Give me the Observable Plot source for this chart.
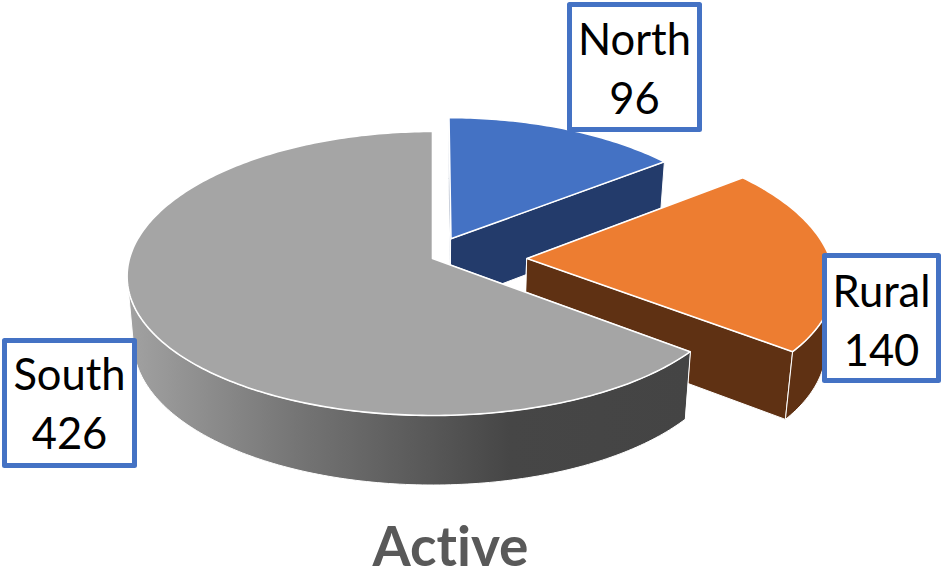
<!DOCTYPE html>
<html>
<head>
<meta charset="utf-8">
<script src="https://cdn.jsdelivr.net/npm/d3@7"></script>
<script src="https://cdn.jsdelivr.net/npm/@observablehq/plot@0.6"></script>
<style>
html,body{margin:0;padding:0;background:#fff}
svg{display:block}
svg text{font-variant-ligatures:none}
g[aria-label="title"]{letter-spacing:2.4px}
</style>
</head>
<body>
<div id="chart"></div>
<script>
// --- data
const categories = ["North", "Rural", "South"];
const values = [96, 140, 426];
const chartTitle = "Active";

// --- styling and layout
const topColors = ["#4472C4", "#ED7D31", "#A5A5A5"];
const sideColors = ["#233B6B", "#5F3113", "url(#graySide)"];
const offsetsU = [0.062, 0.312, 0];
const offsetsV = [-0.142, 0, 0];
const radii = [0.98, 1, 1];
const center = {x: 432, y: 258};
const radius = {x: 303, y: 140.4};
const perspY = 0.1056, perspX = 0.125, thickness = 65, bottomScale = 0.98;
const labelBoxes = [
  {x1: 569.5, x2: 699.5, y1: 4.5, y2: 129.5, cy: 65},
  {x1: 824.5, x2: 938.5, y1: 255.5, y2: 380.5, cy: 317},
  {x1: 4.5, x2: 134.5, y1: 340.5, y2: 465.5, cy: 400}
];

// --- projection of a point on the disc (u right, v toward the viewer, depth 0 top / 1 bottom)
function project(u, v, depth) {
  const sy = 1 / (1 - perspY * v), sx = 1 / (1 - perspX * v);
  const X = radius.x * u * sx, Y = radius.y * v * sy;
  const f = depth ? bottomScale : 1;
  return {x: center.x + X * f, y: center.y + Y * f + (depth ? thickness * sy : 0)};
}

const total = d3.sum(values);
const slices = [];
let acc = 0;
values.forEach((v, i) => {
  const a0 = acc / total * 2 * Math.PI;
  acc += v;
  const a1 = acc / total * 2 * Math.PI;
  slices.push({i, a0, a1, ou: offsetsU[i], ov: offsetsV[i], r: radii[i]});
});

function rimAngles(s) {
  const n = Math.max(2, Math.ceil((s.a1 - s.a0) * 60));
  return d3.range(n + 1).map(k => s.a0 + (s.a1 - s.a0) * k / n);
}
const rimPoint = (s, a, depth) =>
  project(s.ou + s.r * Math.sin(a), s.ov - s.r * Math.cos(a), depth);

const polys = [];
function addPoly(id, pts, fill) {
  if (pts.length) pts.forEach(p => polys.push({id, x: p.x, y: p.y, fill}));
}
slices.forEach(s => {
  const col = sideColors[s.i];
  const apexT = project(s.ou, s.ov, 0), apexB = project(s.ou, s.ov, 1);
  const angles = rimAngles(s);
  const rT = angles.map(a => rimPoint(s, a, 0));
  const rB = angles.map(a => rimPoint(s, a, 1));
  // only the part of the outer wall that faces the viewer
  const front = angles.filter(a => -Math.cos(a) >= perspX);
  const fT = front.map(a => rimPoint(s, a, 0));
  const fB = front.map(a => rimPoint(s, a, 1));
  addPoly(`side-a-${s.i}`, [apexT, rT[0], rB[0], apexB], s.i === 2 ? "#777" : col);
  addPoly(`side-b-${s.i}`, [apexT, rT[rT.length - 1], rB[rB.length - 1], apexB], s.i === 2 ? "#444" : col);
  addPoly(`side-c-${s.i}`, [...fT, ...fB.reverse()], col);
  addPoly(`top-${s.i}`, [apexT, ...rT], topColors[s.i]);
});

function polyMark(id) {
  const d = polys.filter(p => p.id === id);
  if (!d.length) return null;
  const isTop = id.startsWith("top");
  return Plot.line(d, {x: "x", y: "y", fill: d[0].fill, stroke: "#fff",
    strokeWidth: isTop ? 1.6 : 1, strokeLinejoin: "round", curve: "linear-closed"});
}
const gradient = () => {
  const defs = d3.create("svg:defs");
  const g = defs.append("linearGradient").attr("id", "graySide")
    .attr("x1", 0).attr("x2", 1).attr("y1", 0).attr("y2", 0);
  [[0, "#a2a2a2"], [0.3, "#757575"], [0.68, "#464646"], [1, "#444444"]].forEach(([o, c]) =>
    g.append("stop").attr("offset", o).attr("stop-color", c));
  return defs.node();
};

const pieMarks = [0, 1, 2].flatMap(i =>
  [`side-a-${i}`, `side-b-${i}`, `side-c-${i}`, `top-${i}`].map(polyMark)).filter(Boolean);

const labels = categories.map((c, i) => ({
  text: `${c}\n${values[i]}`, ...labelBoxes[i], x: (labelBoxes[i].x1 + labelBoxes[i].x2) / 2 - 0.5
}));

const plot = Plot.plot({
  width: 941, height: 577,
  margin: 0,
  x: {domain: [0, 941], axis: null},
  y: {domain: [577, 0], axis: null},
  style: {background: "#fff", fontFamily: "Lato, sans-serif"},
  marks: [
    gradient,
    ...pieMarks,
    Plot.rect(labels, {x1: "x1", x2: "x2", y1: "y1", y2: "y2", fill: "#fff",
      stroke: "#4472C4", strokeWidth: 5, strokeLinejoin: "round"}),
    Plot.text(labels, {x: "x", y: "cy", text: "text", fill: "#000", fontSize: 43.5,
      lineHeight: 1.36, textAnchor: "middle"}),
    Plot.text([chartTitle], {x: [450], y: [548], text: d => d, fill: "#595959",
      fontSize: 55, fontWeight: 700, textAnchor: "middle", ariaLabel: "title"})
  ]
});
document.getElementById("chart").append(plot);
</script>
</body>
</html>
